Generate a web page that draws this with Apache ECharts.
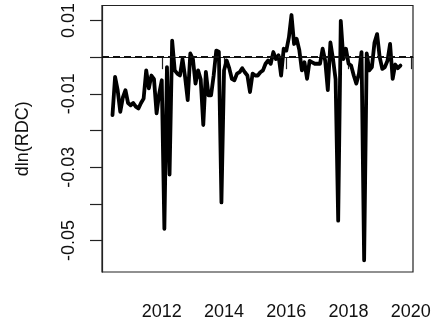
<!DOCTYPE html>
<html>
<head>
<meta charset="utf-8">
<script src="https://cdn.jsdelivr.net/npm/echarts@6/dist/echarts.min.js"></script>
<style>
html,body{margin:0;padding:0;background:#fff;}
#c{width:441px;height:327px;}
</style>
</head>
<body>
<div id="c"></div>
<script>
// Monthly series, first observation June 2010
const startYear = 2010;
const startMonth = 6;
const dlnRDC = [
  -0.0158, -0.0054, -0.0090, -0.0149, -0.0110, -0.0090, -0.0125, -0.0131, -0.0125, -0.0135,
  -0.0140, -0.0125, -0.0113, -0.0036, -0.0085, -0.0050, -0.0060, -0.0153, -0.0100, -0.0063,
  -0.0468, -0.0027, -0.0320, 0.0045, -0.0036, -0.0045, -0.0050, -0.0005, -0.0055, -0.0117,
  0.0010, -0.0005, -0.0072, -0.0036, -0.0060, -0.0185, -0.0040, -0.0104, -0.0104, -0.0050,
  0.0018, 0.0015, -0.0396, -0.0036, -0.0009, -0.0030, -0.0059, -0.0063, -0.0045, -0.0041,
  -0.0030, -0.0041, -0.0050, -0.0095, -0.0045, -0.0050, -0.0050, -0.0041, -0.0036, -0.0018,
  -0.0009, -0.0018, 0.0014, -0.0005, 0.0005, -0.0050, 0.0023, 0.0018, 0.0054, 0.0115,
  0.0036, 0.0050, 0.0020, -0.0036, -0.0014, -0.0059, -0.0010, -0.0014, -0.0018, -0.0018,
  -0.0018, 0.0023, -0.0010, -0.0090, 0.0040, -0.0005, -0.0060, -0.0446, 0.0099, -0.0005,
  0.0023, -0.0018, -0.0023, -0.0050, -0.0072, -0.0045, 0.0014, -0.0554, 0.0010, -0.0036,
  -0.0027, 0.0040, 0.0063, 0.0000, -0.0032, -0.0027, -0.0010, 0.0036, -0.0059, -0.0020,
  -0.0030, -0.0023
];
const xTicks = [2012, 2014, 2016, 2018, 2020];
const yTicks = [0.01, 0, -0.01, -0.02, -0.03, -0.04, -0.05];
const yLabels = [0.01, -0.01, -0.03, -0.05];

const seriesData = dlnRDC.map((v, i) => [startYear + (startMonth - 1 + i) / 12, v]);

const font = 'Liberation Sans, Arial, sans-serif';
const chart = echarts.init(document.getElementById('c'));
chart.setOption({
  animation: false,
  backgroundColor: '#fff',
  grid: {
    left: 102, right: 28, top: 5, bottom: 55,
    show: true, borderColor: '#222', borderWidth: 1.2, backgroundColor: 'transparent'
  },
  xAxis: {
    type: 'value',
    min: 2010.08, max: 2020.07,
    axisLine: { show: true, lineStyle: { color: '#222', width: 1.2 } },
    axisTick: { show: true, customValues: xTicks, length: 12, inside: false, lineStyle: { color: '#222', width: 1.2 } },
    axisLabel: { customValues: xTicks, margin: 31, fontSize: 18, fontFamily: font, color: '#111', formatter: v => String(v) },
    splitLine: { show: false }
  },
  yAxis: {
    type: 'value',
    min: -0.0586, max: 0.0141,
    name: 'dln(RDC)',
    nameLocation: 'middle',
    nameRotate: 90,
    nameGap: 70,
    nameTextStyle: { fontSize: 18, fontFamily: font, color: '#111' },
    axisLine: { show: true, lineStyle: { color: '#222', width: 1.2 } },
    axisTick: { show: true, customValues: yTicks, length: 12, inside: false, lineStyle: { color: '#222', width: 1.2 } },
    axisLabel: { customValues: yLabels, rotate: 90, margin: 24, fontSize: 18, fontFamily: font, color: '#111',
      formatter: v => v.toFixed(2) },
    splitLine: { show: false }
  },
  series: [{
    type: 'line',
    data: seriesData,
    showSymbol: false,
    lineStyle: { color: '#000', width: 3.8, join: 'round', cap: 'round' },
    markLine: {
      silent: true,
      symbol: 'none',
      label: { show: false },
      lineStyle: { color: '#111', width: 1.8, type: [7, 4] },
      data: [{ yAxis: 0 }]
    }
  }]
});
</script>
</body>
</html>
